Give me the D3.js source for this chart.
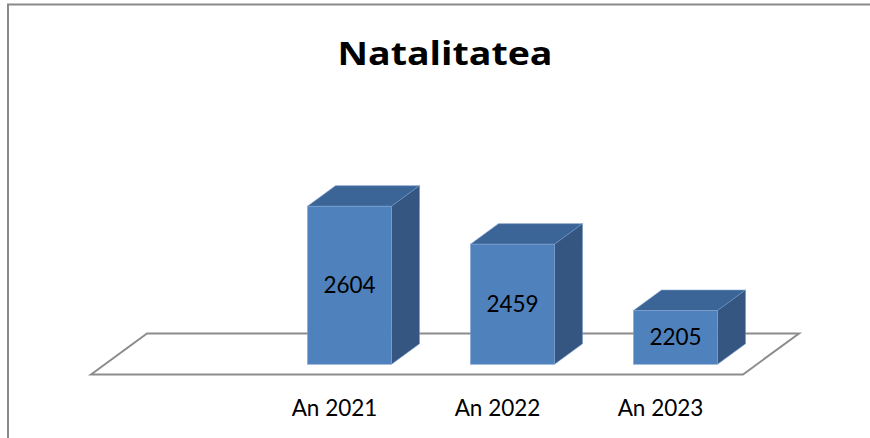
<!DOCTYPE html>
<html>
<head>
<meta charset="utf-8">
<script src="https://cdn.jsdelivr.net/npm/d3@7"></script>
<style>
  body { margin: 0; background: white; }
</style>
</head>
<body>
<div id="container"></div>
<script>
// data
let categories = ["", "An 2021", "An 2022", "An 2023"];
let values = [null, 2604, 2459, 2205];
let valueDomain = [2000, 2800];

// colors
let front = "#4F81BD";
let side = "#345680";
let top3d = "#3C6597";
let floorLine = "#8C8C8C";

let width = 870, height = 438;

let viz = d3.select("#container")
  .append("svg")
    .attr("width", width)
    .attr("height", height)
    .style("background-color", "white");

// chart border (right / bottom sit outside the window)
viz.append("rect")
  .attr("x", 8)
  .attr("y", 4.5)
  .attr("width", 900)
  .attr("height", 500)
  .attr("fill", "none")
  .attr("stroke", "#8a8a8a")
  .attr("stroke-width", 2);

viz.append("text")
  .text("Natalitatea")
  .attr("x", 445)
  .attr("y", 65)
  .attr("text-anchor", "middle")
  .attr("font-family", "'Open Sans', sans-serif")
  .attr("font-weight", "bold")
  .attr("font-size", 33)
  .attr("textLength", 215)
  .attr("lengthAdjust", "spacingAndGlyphs")
  .attr("fill", "black");

// scales: x on the front plane, depth 0..1 to the back, height by value
let x = d3.scaleBand().domain(categories).range([91, 743]).padding(0);
let depthX = d3.scaleLinear().domain([0, 1]).range([0, 56]);
let depthY = d3.scaleLinear().domain([0, 1]).range([0, -41]);
let h = d3.scaleLinear().domain(valueDomain).range([0, 209.3]);
let floorY = 374.5;

// floor
let x0 = x.range()[0], x1 = x.range()[1];
viz.append("path")
  .attr("d", d3.line()([
    [x0, floorY],
    [x0 + depthX(1), floorY + depthY(1)],
    [x1 + depthX(1), floorY + depthY(1)],
    [x1, floorY]
  ]) + "Z")
  .attr("fill", "white")
  .attr("stroke", floorLine)
  .attr("stroke-width", 2);

let barW = x.bandwidth() * 0.515;
let d0 = 0.25, d1 = 0.75;

let data = categories.map((c, i) => ({ c: c, v: values[i] })).filter(d => d.v != null);

let bars = viz.selectAll("g.bar")
  .data(data)
  .enter()
  .append("g")
  .attr("class", "bar");

function geom(d) {
  let l = x(d.c) + (x.bandwidth() - barW) / 2 + depthX(d0);
  let r = l + barW;
  let b = floorY + depthY(d0);
  let t = b - h(d.v);
  let dx = depthX(d1) - depthX(d0);
  let dy = depthY(d1) - depthY(d0);
  return { l, r, b, t, dx, dy };
}

// top face
bars.append("path")
  .attr("d", d => {
    let g = geom(d);
    return d3.line()([[g.l, g.t], [g.l + g.dx, g.t + g.dy], [g.r + g.dx, g.t + g.dy], [g.r, g.t]]) + "Z";
  })
  .attr("fill", top3d)
  .attr("stroke", "#6f93c4")
  .attr("stroke-width", 0.6);

// side face
bars.append("path")
  .attr("d", d => {
    let g = geom(d);
    return d3.line()([[g.r, g.t], [g.r + g.dx, g.t + g.dy], [g.r + g.dx, g.b + g.dy], [g.r, g.b]]) + "Z";
  })
  .attr("fill", side)
  .attr("stroke", "#6f93c4")
  .attr("stroke-width", 0.6);

// front face
bars.append("rect")
  .attr("x", d => geom(d).l)
  .attr("y", d => geom(d).t)
  .attr("width", barW)
  .attr("height", d => h(d.v))
  .attr("fill", front)
  .attr("stroke", "#7fa3d3")
  .attr("stroke-width", 0.6);

// value labels
bars.append("text")
  .text(d => d.v)
  .attr("x", d => geom(d).l + barW / 2)
  .attr("y", d => (geom(d).t + geom(d).b) / 2 + 8)
  .attr("text-anchor", "middle")
  .attr("font-family", "Lato, sans-serif")
  .attr("font-size", 22.5)
  .attr("fill", "black");

// category labels
viz.selectAll("text.cat")
  .data(data)
  .enter()
  .append("text")
  .attr("class", "cat")
  .text(d => d.c)
  .attr("x", d => x(d.c) + x.bandwidth() / 2 - 1)
  .attr("y", 416)
  .attr("text-anchor", "middle")
  .attr("font-family", "Lato, sans-serif")
  .attr("font-size", 22.5)
  .attr("fill", "black");
</script>
</body>
</html>
